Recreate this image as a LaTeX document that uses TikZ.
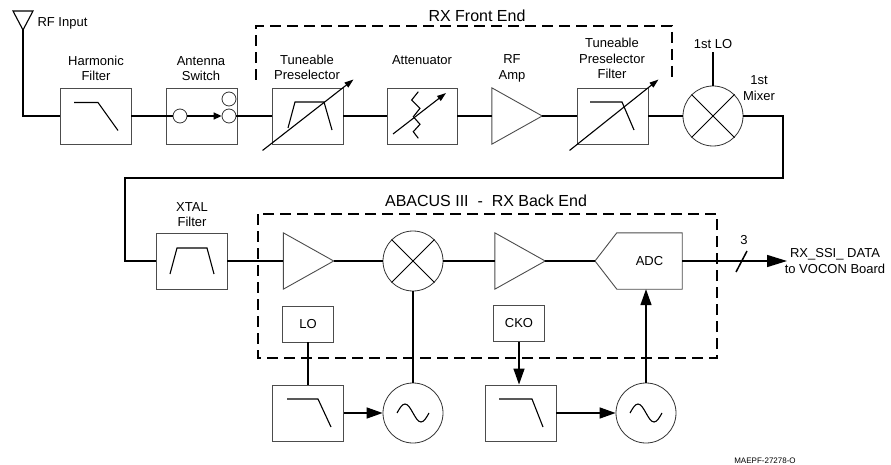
\documentclass[tikz,border=0pt]{standalone}
\usepackage{fontspec}
\setmainfont{Liberation Sans}
\usetikzlibrary{arrows.meta,calc}
\tikzset{
	outline/.style={draw=black!70, line width=0.9pt},
	blk/.style={outline, minimum width=71pt, minimum height=56pt, inner sep=0pt},
	smallblk/.style={blk, minimum width=51pt, minimum height=36pt, font=\fontsize{13}{15}\selectfont},
	ampbox/.style={minimum width=50pt, minimum height=56pt, inner sep=0pt},
	mix/.style={draw=black!80, line width=0.8pt, circle, minimum size=60pt, inner sep=0pt},
	swc/.style={draw=black!80, line width=0.8pt, circle, minimum size=14pt, inner sep=0pt},
	wire/.style={line width=1.5pt},
	glyph/.style={line width=1.1pt},
	frame/.style={line width=1.2pt, dash pattern=on 11pt off 6pt},
	lbl/.style={font=\fontsize{13}{15.5}\selectfont, align=center},
	ttl/.style={font=\fontsize{16}{18}\selectfont},
	tip/.style={-{Triangle[length=16pt,width=11pt]}},
	tune/.style={glyph, -{Triangle[length=9pt,width=6pt]}}
}

\begin{document}
\begin{tikzpicture}[x=1pt,y=-1pt]
	\useasboundingbox (0,0) rectangle (891,465);
	% front end
	\coordinate (ant) at (23,30);
	\node [blk] (hf) at (95.5,116) {};
	\node [blk] (sw) at (201.5,116) {};
	\node [swc] (swa) at (180,116) {};
	\node [swc] (swb) at (229,116) {};
	\node [swc] (swt) at (229,99) {};
	\node [blk] (tp) at (307.5,116) {};
	\node [blk, minimum width=70pt] (att) at (422,116) {};
	\node [ampbox] (rfa) at (517,116) {};
	\node [blk] (tpf) at (612.5,116) {};
	\node [mix] (mx1) at (713,116) {};
	\coordinate (c1) at (783,178);
	\coordinate (c2) at (125,178);
	% back end
	\node [blk] (xf) at (191.5,261) {};
	\node [ampbox] (a1) at (308.5,261) {};
	\node [mix] (mx2) at (413,261) {};
	\node [ampbox] (a2) at (520,261) {};
	\node [ampbox, minimum width=65pt, font=\fontsize{13}{15}\selectfont] (adc) at (649.5,261) {ADC};
	\coordinate (adcin) at (595,261);
	\node [smallblk] (lo) at (308,324) {LO};
	\node [blk] (lp1) at (308,413) {};
	\node [mix] (osc1) at (413,413) {};
	\node [smallblk] (cko) at (519,323.5) {CKO};
	\node [blk] (lp2) at (520.5,413) {};
	\node [mix] (osc2) at (646,413) {};
	\coordinate (out) at (787,261);
	% labels
	\node [lbl, anchor=west] (rfin) at (34,23) {RF Input};
	\node [lbl] (l1) at (96,68.5) {Harmonic\\Filter};
	\node [lbl] (l2) at (201,68.5) {Antenna\\Switch};
	\node [lbl] (l3) at (307,67.5) {Tuneable\\Preselector};
	\node [lbl] (l4) at (422,60) {Attenuator};
	\node [lbl] (l5) at (512,68.5) {RF\\Amp};
	\node [lbl] (l6) at (612,58.5) {Tuneable\\Preselector\\Filter};
	\node [lbl] (l7) at (713,44) {1st LO};
	\node [lbl] (l8) at (759,88) {1st\\Mixer};
	\node [lbl] (l9) at (192,214.5) {XTAL\\Filter};
	\node [lbl] (l10) at (744,240) {3};
	\node [lbl, font=\fontsize{13}{16}\selectfont] (l11) at (835,261) {RX\_SSI\_ DATA\\to VOCON Board};
	\node [font=\fontsize{8}{9}\selectfont] (code) at (765,461) {MAEPF-27278-O};
	\node [ttl] (fe) at (477,16) {RX Front End};
	\node [ttl] (be) at (486,201) {ABACUS III~~-~~RX Back End};
	% frames
	\draw [frame] (256,80) -- (256,26) -- (672,26) -- (672,80);
	\draw [frame] (258,214) rectangle (717,358);
	% shapes
	\draw [outline] (rfa.north west) -- (rfa.east) -- (rfa.south west) -- cycle;
	\draw [outline] (a1.north west) -- (a1.east) -- (a1.south west) -- cycle;
	\draw [outline] (a2.north west) -- (a2.east) -- (a2.south west) -- cycle;
	\draw [outline] (adc.north west) -- (adc.north east) -- (adc.south east) -- (adc.south west) -- (adcin) -- cycle;
	% glyphs
	\draw [glyph] (ant) -- ++(-10,-19) -- ++(20,0) -- cycle;
	\draw [glyph, shift={(hf.center)}] (-21.5,-13.5) -- (2.5,-13.5) -- (22.5,14.5);
	\draw [glyph, shift={(tp.center)}] (-19.5,12) -- (-12.5,-14) -- (16.5,-14) -- (24.5,14);
	\draw [tune] ($(tp.south west)+(-9,6)$) -- ($(tp.north east)+(10,-8)$);
	\draw [glyph, shift={(att.center)}] (-3.7,-24.3) -- (-10.3,-16) -- (-2,-7.7) -- (-8.7,0.7) -- (-2,8.3) -- (-8.7,15.7) -- (-3.7,22.3);
	\draw [tune, shift={(att.center)}] (-29,18) -- (24,-23);
	\draw [glyph, shift={(tpf.center)}] (-22.5,-14) -- (9.5,-14) -- (21.5,14);
	\draw [tune] ($(tpf.south west)+(-7,6)$) -- ($(tpf.north east)+(10,-8)$);
	\draw [glyph, shift={(xf.center)}] (-21.5,13) -- (-14.5,-13) -- (15.5,-13) -- (22.5,13);
	\draw [glyph, shift={(lp1.center)}] (-21,-14) -- (10,-14) -- (23,14);
	\draw [glyph, shift={(lp2.center)}] (-21.5,-14) -- (11.5,-14) -- (22.5,14);
	\draw [line width=0.8pt] (mx1.north west) -- (mx1.south east) (mx1.north east) -- (mx1.south west);
	\draw [line width=0.8pt] (mx2.north west) -- (mx2.south east) (mx2.north east) -- (mx2.south west);
	\draw [glyph] ([xshift=-16pt]osc1.center) sin ++(8,-9) cos ++(8,9) sin ++(8,9) cos ++(8,-9);
	\draw [glyph] ([xshift=-16pt]osc2.center) sin ++(8,-9) cos ++(8,9) sin ++(8,9) cos ++(8,-9);
	% edges
	\draw [wire] (ant) |- (hf.west);
	\draw [wire] (hf.east) -- (swa.west);
	\draw [wire, -{Triangle[length=8pt,width=7pt]}] (swa.east) -- (swb.west);
	\draw [wire] (swb.east) -- (tp.west);
	\draw [wire] (tp.east) -- (att.west);
	\draw [wire] (att.east) -- (rfa.west);
	\draw [wire] (rfa.east) -- (tpf.west);
	\draw [wire] (tpf.east) -- (mx1.west);
	\draw [wire] (l7.south) -- (mx1.north);
	\draw [wire] (mx1.east) -| (c1) -- (c2) |- (xf.west);
	\draw [wire] (xf.east) -- (a1.west);
	\draw [wire] (a1.east) -- (mx2.west);
	\draw [wire] (mx2.east) -- (a2.west);
	\draw [wire] (a2.east) -- (adcin);
	\draw [wire, -{Triangle[length=20pt,width=12pt]}] (adc.east) -- (out);
	\draw [wire] (736,272) -- (747,251);
	\draw [wire] (mx2.south) -- (osc1.north);
	\draw [wire] (lo.south) -- (lo.south |- lp1.north);
	\draw [wire, tip] (lp1.east) -- (osc1.west);
	\draw [wire, tip] (cko.south) -- (cko.south |- lp2.north);
	\draw [wire, tip] (lp2.east) -- (osc2.west);
	\draw [wire, tip] (osc2.north) -- (osc2.north |- adc.south);
\end{tikzpicture}
\end{document}
